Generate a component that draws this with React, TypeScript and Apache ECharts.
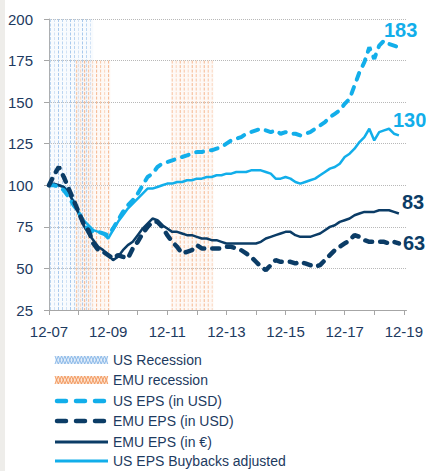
import React, { useEffect, useRef } from 'react';
import * as echarts from 'echarts';

// x positions are in 2-month steps from Dec 2007 (index 0) to Oct 2019 (index 71)
const xTickLabels = ['12-07', '12-09', '12-11', '12-13', '12-15', '12-17', '12-19'];

const usEpsUsd = [
  100, 100, 99, 97, 93, 88, 84, 78, 73, 72,
  72, 71, 70, 74, 79, 84, 88, 91, 95, 100,
  105, 107, 111, 113, 114, 115, 116, 117, 118, 119,
  120, 120, 121, 121, 122, 123, 125, 127, 128, 129,
  131, 132, 133, 134, 133, 132, 133, 131, 132, 131,
  131, 130, 131, 132, 134, 136, 138, 141, 143, 145,
  149, 152, 160, 168, 174, 183, 176, 184, 187, 185,
  184, 183,
];

const usEpsBuyback = [
  100, 100, 100, 99, 96, 90, 84, 79, 76, 73,
  72, 71, 68, 73, 78, 82, 86, 89, 92, 95,
  98, 98, 99, 100, 101, 101, 102, 102, 103, 103,
  104, 104, 105, 105, 106, 106, 107, 107, 108, 108,
  108, 109, 109, 109, 108, 107, 104, 104, 105, 104,
  102, 101, 102, 103, 104, 106, 108, 110, 111, 113,
  117, 119, 122, 126, 129, 134, 127, 132, 133, 134,
  131, 130,
];

const emuEpsEur = [
  100, 101, 100, 99, 95, 90, 83, 76, 71, 67,
  63, 61, 58, 55, 57, 61, 64, 66, 70, 74,
  77, 80, 79, 76, 74, 72, 72, 71, 70, 70,
  69, 68, 68, 67, 67, 66, 65, 65, 65, 65,
  65, 65, 65, 66, 68, 69, 70, 71, 72, 72,
  70, 69, 69, 69, 70, 71, 73, 75, 76, 78,
  79, 80, 82, 83, 84, 84, 84, 85, 85, 85,
  84, 83,
];

const emuEpsUsd = [
  100, 106, 111, 105, 98, 91, 84, 77, 73, 65,
  61, 60, 58, 56, 58, 57, 56, 62, 66, 71,
  75, 78, 78, 75, 70, 66, 63, 59, 60, 61,
  64, 62, 62, 62, 62, 62, 63, 63, 62, 61,
  59, 57, 54, 51, 49, 52, 55, 54, 54, 54,
  53, 54, 53, 52, 51, 52, 55, 58, 61, 63,
  65, 67, 70, 69, 67, 66, 66, 66, 66, 65,
  66, 65,
];

// recession periods [start, end] in 2-month steps from Dec 2007
const usRecessions = [[0, 9]];
const emuRecessions = [[5.3, 12.5], [24.7, 33.4]];

const endLabels = ['183', '130', '83', '63'];

const legendLabels = [
  'US Recession',
  'EMU recession',
  'US EPS (in USD)',
  'EMU EPS (in USD)',
  'EMU EPS (in €)',
  'US EPS Buybacks adjusted',
];

const LB = '#12aeea';
const NAVY = '#0b3c66';
const TXT = '#1d3a60';
const FONT = '"Liberation Sans", Arial, sans-serif';

export default function App() {
  const ref = useRef<HTMLDivElement>(null);
  useEffect(() => {
    const chart = echarts.init(ref.current!, null, { renderer: 'svg' });
    const idx = (arr: number[]) => arr.map((v, i) => [i, v]);
    const bandData = [
      ...usRecessions.map(([s, e]) => [s, e, 200, 25, 0]),
      ...emuRecessions.map(([s, e]) => [s, e, 175, 25, 1]),
    ];

    const legendRows = [360, 380, 401, 421, 442, 461];
    const graphics: any[] = [
      { type: 'rect', shape: { x: 0, y: 0, width: 5, height: 471 }, style: { fill: '#eeedea' }, z: 100 },
    ];
    // end labels
    const endPos = [
      [384, 30, LB],
      [393, 120, LB],
      [402, 202, NAVY],
      [403, 243, NAVY],
    ];
    endPos.forEach((p, i) => {
      graphics.push({
        type: 'text', x: p[0], y: p[1], z: 100,
        style: { text: endLabels[i], fill: p[2], font: `bold 20px ${FONT}`, verticalAlign: 'middle', align: 'left' },
      });
    });
    // legend
    const x0 = 55, x1 = 108;
    legendRows.forEach((y, i) => {
      if (i < 2) {
        const stroke = i === 0 ? '#86b6e6' : '#f0955a';
        const fill = i === 0 ? '#e3eefa' : '#fde3d0';
        graphics.push({ type: 'rect', shape: { x: x0, y: y - 4, width: x1 - x0, height: 8 }, style: { fill }, z: 100 });
        const a: number[][] = [], b: number[][] = [];
        let k = 0;
        for (let x = x0; x <= x1 + 0.01; x += 3.3) {
          a.push([x, k % 2 ? y + 4 : y - 4]);
          b.push([x, k % 2 ? y - 4 : y + 4]);
          k++;
        }
        graphics.push({ type: 'polyline', shape: { points: a }, style: { stroke, lineWidth: 0.9, fill: null }, z: 101 });
        graphics.push({ type: 'polyline', shape: { points: b }, style: { stroke, lineWidth: 0.9, fill: null }, z: 101 });
      } else if (i < 4) {
        graphics.push({
          type: 'line', shape: { x1: x0 + 2, y1: y, x2: x1, y2: y }, z: 100,
          style: { stroke: i === 2 ? LB : NAVY, lineWidth: 4.5, lineDash: [9, 10], lineCap: 'round' },
        });
      } else {
        graphics.push({
          type: 'line', shape: { x1: x0, y1: y, x2: x1, y2: y }, z: 100,
          style: { stroke: i === 4 ? NAVY : LB, lineWidth: 3 },
        });
      }
      graphics.push({
        type: 'text', x: 113, y, z: 100,
        style: { text: legendLabels[i], fill: TXT, font: `14px ${FONT}`, verticalAlign: 'middle', align: 'left' },
      });
    });

    const option: any = {
      animation: false,
      backgroundColor: '#ffffff',
      grid: { left: 49, right: 19, top: 19, bottom: 161 },
      xAxis: {
        type: 'value', min: 0, max: 72.55, interval: 6,
        axisLine: { show: true, lineStyle: { color: '#a6a6a6', width: 1 } },
        axisTick: { show: true, length: 5, lineStyle: { color: '#a6a6a6' } },
        axisLabel: {
          color: TXT, fontSize: 15, fontFamily: FONT, margin: 14, showMaxLabel: false,
          formatter: (v: number) => (v % 12 === 0 && v / 12 < xTickLabels.length ? xTickLabels[v / 12] : ''),
        },
        splitLine: { show: false },
      },
      yAxis: {
        type: 'value', min: 25, max: 200, interval: 25,
        axisLine: { show: true, lineStyle: { color: '#a6a6a6', width: 1 } },
        axisTick: { show: true, length: 5, lineStyle: { color: '#a6a6a6' } },
        axisLabel: { color: TXT, fontSize: 15, fontFamily: FONT, margin: 16 },
        splitLine: { show: true, lineStyle: { color: '#b8b8b8', type: 'dotted', width: 1 } },
      },
      graphic: graphics,
      series: [
        {
          type: 'custom', name: 'bands', silent: true, z: 1, clip: false,
          data: bandData,
          encode: { x: [0, 1], y: [2, 3] },
          renderItem: (params: any, api: any) => {
            const s = api.value(0), e = api.value(1), top = api.value(2), bot = api.value(3), kind = api.value(4);
            const p0 = api.coord([s, top]);
            const p1 = api.coord([e, bot]);
            const colors = kind === 0 ? ['#a9cbee', '#c6dcf3', '#93bde8'] : ['#f6b68a', '#f9cdae', '#f3a673'];
            const children: any[] = [
              {
                type: 'rect',
                shape: { x: p0[0], y: p0[1], width: p1[0] - p0[0], height: p1[1] - p0[1] },
                style: { fill: kind === 0 ? 'rgba(205,225,245,0.15)' : 'rgba(250,218,196,0.15)' },
              },
            ];
            let k = 0;
            for (let x = p0[0] + 1.5; x < p1[0]; x += 4) {
              children.push({
                type: 'line',
                shape: { x1: x, y1: p0[1], x2: x, y2: p1[1] },
                style: { stroke: colors[k % 3], lineWidth: 0.8, lineDash: [3, 1.5] },
              });
              k++;
            }
            return { type: 'group', children };
          },
        },
        {
          type: 'line', name: legendLabels[5], data: idx(usEpsBuyback), symbol: 'none', z: 3,
          lineStyle: { color: LB, width: 2.5 },
        },
        {
          type: 'line', name: legendLabels[4], data: idx(emuEpsEur), symbol: 'none', z: 3,
          lineStyle: { color: NAVY, width: 2.5 },
        },
        {
          type: 'line', name: legendLabels[2], data: idx(usEpsUsd), symbol: 'none', z: 4,
          lineStyle: { color: LB, width: 4, type: [7, 8], cap: 'round' },
        },
        {
          type: 'line', name: legendLabels[3], data: idx(emuEpsUsd), symbol: 'none', z: 4,
          lineStyle: { color: NAVY, width: 4.5, type: [7, 8], cap: 'round' },
        },
      ],
    };
    chart.setOption(option);
    return () => chart.dispose();
  }, []);
  return <div ref={ref} style={{ position: 'fixed', left: 0, top: 0, width: 426, height: 471 }} />;
}
